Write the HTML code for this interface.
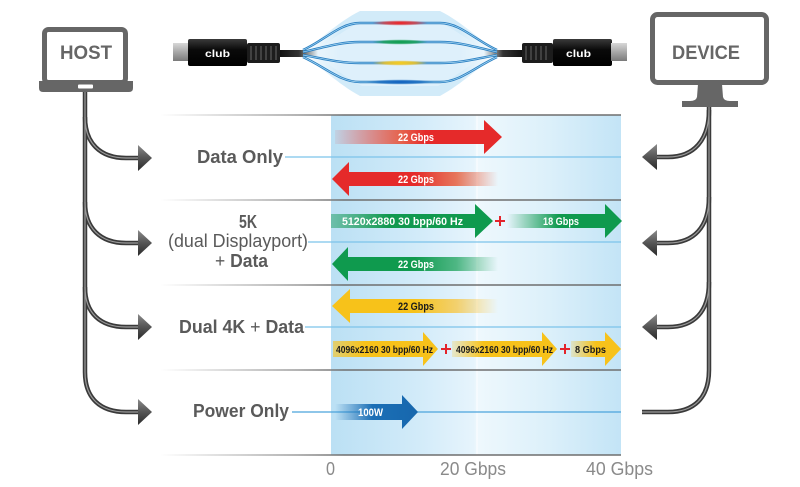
<!DOCTYPE html>
<html><head><meta charset="utf-8">
<style>
html,body{margin:0;padding:0;background:#fff;}
svg{display:block;}
text{font-family:"Liberation Sans",sans-serif;}
</style></head>
<body>
<svg width="800" height="487" viewBox="0 0 800 487" xmlns="http://www.w3.org/2000/svg">
<defs>
  <linearGradient id="panel" x1="331" y1="0" x2="621" y2="0" gradientUnits="userSpaceOnUse">
    <stop offset="0" stop-color="#bbe0f4"/>
    <stop offset="0.3" stop-color="#d2ebf9"/>
    <stop offset="0.49" stop-color="#e6f4fc"/>
    <stop offset="0.51" stop-color="#eef8fd"/>
    <stop offset="0.75" stop-color="#dcf0fa"/>
    <stop offset="1" stop-color="#c3e4f6"/>
  </linearGradient>
  <linearGradient id="sep" x1="160" y1="0" x2="621" y2="0" gradientUnits="userSpaceOnUse">
    <stop offset="0" stop-color="#ffffff"/>
    <stop offset="0.3" stop-color="#9a9a9a"/>
    <stop offset="0.4" stop-color="#6e6e6e"/>
    <stop offset="1" stop-color="#6e6e6e"/>
  </linearGradient>
  <linearGradient id="rR" x1="335" y1="0" x2="500" y2="0" gradientUnits="userSpaceOnUse">
    <stop offset="0" stop-color="#e52a2a" stop-opacity="0.08"/>
    <stop offset="0.4" stop-color="#e8543a" stop-opacity="0.9"/>
    <stop offset="0.55" stop-color="#e52a2a"/>
    <stop offset="1" stop-color="#e52a2a"/>
  </linearGradient>
  <linearGradient id="rL" x1="332" y1="0" x2="498" y2="0" gradientUnits="userSpaceOnUse">
    <stop offset="0" stop-color="#e52a2a"/>
    <stop offset="0.5" stop-color="#e52a2a"/>
    <stop offset="0.75" stop-color="#e8603f" stop-opacity="0.85"/>
    <stop offset="1" stop-color="#e8603f" stop-opacity="0"/>
  </linearGradient>
  <linearGradient id="gR1" x1="331" y1="0" x2="493" y2="0" gradientUnits="userSpaceOnUse">
    <stop offset="0" stop-color="#3aa87a" stop-opacity="0.6"/>
    <stop offset="0.35" stop-color="#11994f"/>
    <stop offset="1" stop-color="#0f9a4e"/>
  </linearGradient>
  <linearGradient id="gR2" x1="507" y1="0" x2="622" y2="0" gradientUnits="userSpaceOnUse">
    <stop offset="0" stop-color="#0f9a4e" stop-opacity="0"/>
    <stop offset="0.45" stop-color="#0f9a4e"/>
    <stop offset="1" stop-color="#0f9a4e"/>
  </linearGradient>
  <linearGradient id="gL" x1="332" y1="0" x2="498" y2="0" gradientUnits="userSpaceOnUse">
    <stop offset="0" stop-color="#0f9a4e"/>
    <stop offset="0.5" stop-color="#0f9a4e"/>
    <stop offset="0.75" stop-color="#2aa866" stop-opacity="0.8"/>
    <stop offset="1" stop-color="#2aa866" stop-opacity="0"/>
  </linearGradient>
  <linearGradient id="yL" x1="332" y1="0" x2="498" y2="0" gradientUnits="userSpaceOnUse">
    <stop offset="0" stop-color="#f7c21a"/>
    <stop offset="0.5" stop-color="#f7c21a"/>
    <stop offset="0.75" stop-color="#f7c84a" stop-opacity="0.8"/>
    <stop offset="1" stop-color="#f7c84a" stop-opacity="0"/>
  </linearGradient>
  <linearGradient id="yR1" x1="333" y1="0" x2="438" y2="0" gradientUnits="userSpaceOnUse">
    <stop offset="0" stop-color="#f7c21a" stop-opacity="0.6"/>
    <stop offset="0.3" stop-color="#f7c21a"/>
    <stop offset="1" stop-color="#f7c21a"/>
  </linearGradient>
  <linearGradient id="yR2" x1="452" y1="0" x2="557" y2="0" gradientUnits="userSpaceOnUse">
    <stop offset="0" stop-color="#f7c21a" stop-opacity="0.2"/>
    <stop offset="0.3" stop-color="#f7c21a"/>
    <stop offset="1" stop-color="#f7c21a"/>
  </linearGradient>
  <linearGradient id="yR3" x1="571" y1="0" x2="621" y2="0" gradientUnits="userSpaceOnUse">
    <stop offset="0" stop-color="#f7c21a" stop-opacity="0.2"/>
    <stop offset="0.5" stop-color="#f7c21a"/>
    <stop offset="1" stop-color="#f7c21a"/>
  </linearGradient>
  <linearGradient id="bR" x1="335" y1="0" x2="418" y2="0" gradientUnits="userSpaceOnUse">
    <stop offset="0" stop-color="#1b6fb6" stop-opacity="0"/>
    <stop offset="0.45" stop-color="#1b6fb6"/>
    <stop offset="1" stop-color="#1767ad"/>
  </linearGradient>
  <linearGradient id="ahead" x1="0" y1="0" x2="0" y2="1">
    <stop offset="0" stop-color="#8a8a8a"/>
    <stop offset="0.5" stop-color="#555"/>
    <stop offset="1" stop-color="#2a2a2a"/>
  </linearGradient>
  <linearGradient id="silver" x1="0" y1="0" x2="0" y2="1">
    <stop offset="0" stop-color="#d8d8d8"/>
    <stop offset="0.5" stop-color="#a8a8a8"/>
    <stop offset="1" stop-color="#7a7a7a"/>
  </linearGradient>
  <linearGradient id="housing" x1="0" y1="0" x2="0" y2="1">
    <stop offset="0" stop-color="#3a3a3a"/>
    <stop offset="0.4" stop-color="#0a0a0a"/>
    <stop offset="1" stop-color="#000"/>
  </linearGradient>
  <linearGradient id="cabL" x1="280" y1="0" x2="318" y2="0" gradientUnits="userSpaceOnUse">
    <stop offset="0" stop-color="#111"/>
    <stop offset="0.5" stop-color="#333"/>
    <stop offset="1" stop-color="#333" stop-opacity="0"/>
  </linearGradient>
  <linearGradient id="cabR" x1="484" y1="0" x2="522" y2="0" gradientUnits="userSpaceOnUse">
    <stop offset="0" stop-color="#333" stop-opacity="0"/>
    <stop offset="0.5" stop-color="#333"/>
    <stop offset="1" stop-color="#111"/>
  </linearGradient>
  <linearGradient id="bundle" x1="300" y1="0" x2="500" y2="0" gradientUnits="userSpaceOnUse">
    <stop offset="0" stop-color="#e4f3fc" stop-opacity="0.2"/>
    <stop offset="0.2" stop-color="#d2ebf9"/>
    <stop offset="0.8" stop-color="#d2ebf9"/>
    <stop offset="1" stop-color="#e4f3fc" stop-opacity="0.2"/>
  </linearGradient>
  <radialGradient id="blobR"><stop offset="0" stop-color="#ff1a1a"/><stop offset="0.6" stop-color="#e83030" stop-opacity="0.7"/><stop offset="1" stop-color="#e83030" stop-opacity="0"/></radialGradient>
  <radialGradient id="blobG"><stop offset="0" stop-color="#0ea04a"/><stop offset="0.6" stop-color="#16a050" stop-opacity="0.8"/><stop offset="1" stop-color="#16a050" stop-opacity="0"/></radialGradient>
  <radialGradient id="blobY"><stop offset="0" stop-color="#ffd21a"/><stop offset="0.6" stop-color="#f4c520" stop-opacity="0.8"/><stop offset="1" stop-color="#f4c520" stop-opacity="0"/></radialGradient>
  <radialGradient id="blobB"><stop offset="0" stop-color="#1060c0"/><stop offset="0.6" stop-color="#1a6cc0" stop-opacity="0.8"/><stop offset="1" stop-color="#1a6cc0" stop-opacity="0"/></radialGradient>
</defs>

<!-- Panel -->
<rect x="331" y="115" width="290" height="340" fill="url(#panel)"/>
<line x1="477" y1="115" x2="477" y2="455" stroke="#ffffff" stroke-width="1.2" opacity="0.8"/>

<!-- separator lines -->
<g stroke="url(#sep)" stroke-width="1.6">
  <line x1="160" y1="115" x2="621" y2="115"/>
  <line x1="160" y1="200" x2="621" y2="200"/>
  <line x1="160" y1="285" x2="621" y2="285"/>
  <line x1="160" y1="370" x2="621" y2="370"/>
  <line x1="160" y1="455" x2="621" y2="455"/>
</g>

<!-- mid light blue lines -->
<g stroke-width="1.3">
  <line x1="285" y1="157" x2="621" y2="157" stroke="#7cc3ea"/>
  <line x1="308" y1="242" x2="621" y2="242" stroke="#7cc3ea"/>
  <line x1="305" y1="327" x2="621" y2="327" stroke="#7cc3ea"/>
  <line x1="292" y1="412" x2="621" y2="412" stroke="#4ba4dc"/>
</g>

<!-- Row labels -->
<g fill="#5a5a5a" font-weight="bold" font-size="18">
  <text x="197" y="163" textLength="86" lengthAdjust="spacingAndGlyphs">Data Only</text>
  <text x="239" y="228" textLength="18" lengthAdjust="spacingAndGlyphs">5K</text>
  <text x="168" y="247" font-weight="normal" textLength="140" lengthAdjust="spacingAndGlyphs">(dual Displayport)</text>
  <text x="215" y="267" textLength="53" lengthAdjust="spacingAndGlyphs"><tspan font-weight="normal">+ </tspan>Data</text>
  <text x="179" y="333" textLength="125" lengthAdjust="spacingAndGlyphs">Dual 4K <tspan font-weight="normal">+</tspan> Data</text>
  <text x="193" y="417" textLength="96" lengthAdjust="spacingAndGlyphs">Power Only</text>
</g>

<!-- Arrows -->
<path d="M335,130 H484 V120 L502,137 L484,154 V144 H335 Z" fill="url(#rR)"/>
<path d="M332,179 L349,162 V172 H498 V186 H349 V196 Z" fill="url(#rL)"/>
<path d="M331,214 H475 V204 L493,221 L475,238 V228 H331 Z" fill="url(#gR1)"/>
<path d="M507,214 H605 V204 L622,221 L605,238 V228 H507 Z" fill="url(#gR2)"/>
<path d="M332,264 L348,247 V257 H498 V271 H348 V281 Z" fill="url(#gL)"/>
<path d="M332,306 L350,289 V299 H498 V313 H350 V323 Z" fill="url(#yL)"/>
<path d="M333,341 H423 V332 L438,349 L423,366 V357 H333 Z" fill="url(#yR1)"/>
<path d="M452,341 H542 V332 L557,349 L542,366 V357 H452 Z" fill="url(#yR2)"/>
<path d="M571,341 H605 V332 L621,349 L605,366 V357 H571 Z" fill="url(#yR3)"/>
<path d="M335,404 H402 V395 L418,412 L402,429 V420 H335 Z" fill="url(#bR)"/>

<!-- red pluses -->
<g stroke="#e3242b" stroke-width="2">
  <line x1="495" y1="221" x2="505" y2="221"/><line x1="500" y1="216" x2="500" y2="226"/>
  <line x1="441" y1="349" x2="451" y2="349"/><line x1="446" y1="344" x2="446" y2="354"/>
  <line x1="560" y1="349" x2="570" y2="349"/><line x1="565" y1="344" x2="565" y2="354"/>
</g>

<!-- arrow labels -->
<g font-weight="bold" font-size="11" fill="#ffffff">
  <text x="398" y="141" textLength="36" lengthAdjust="spacingAndGlyphs">22 Gbps</text>
  <text x="398" y="183" textLength="36" lengthAdjust="spacingAndGlyphs">22 Gbps</text>
  <text x="342" y="225" textLength="121" lengthAdjust="spacingAndGlyphs">5120x2880 30 bpp/60 Hz</text>
  <text x="543" y="225" textLength="36" lengthAdjust="spacingAndGlyphs">18 Gbps</text>
  <text x="398" y="268" textLength="36" lengthAdjust="spacingAndGlyphs">22 Gbps</text>
  <text x="358" y="416" textLength="25" lengthAdjust="spacingAndGlyphs">100W</text>
</g>
<g font-weight="bold" fill="#1a1a1a">
  <text x="398" y="310" font-size="11" textLength="36" lengthAdjust="spacingAndGlyphs">22 Gbps</text>
  <text x="336" y="353" font-size="10.5" textLength="97" lengthAdjust="spacingAndGlyphs">4096x2160 30 bpp/60 Hz</text>
  <text x="456" y="353" font-size="10.5" textLength="97" lengthAdjust="spacingAndGlyphs">4096x2160 30 bpp/60 Hz</text>
  <text x="575" y="353" font-size="10.5" textLength="31" lengthAdjust="spacingAndGlyphs">8 Gbps</text>
</g>

<!-- axis labels -->
<g fill="#8a8a8a" font-size="18">
  <text x="326" y="475" textLength="9" lengthAdjust="spacingAndGlyphs">0</text>
  <text x="440" y="475" textLength="66" lengthAdjust="spacingAndGlyphs">20 Gbps</text>
  <text x="586" y="475" textLength="67" lengthAdjust="spacingAndGlyphs">40 Gbps</text>
</g>

<!-- HOST laptop -->
<rect x="44.5" y="29.5" width="81" height="53" rx="4" fill="#fff" stroke="#666" stroke-width="5"/>
<path d="M39,81 H133 V88 Q133,92 129,92 H43 Q39,92 39,88 Z" fill="#666"/>
<rect x="78" y="84.5" width="15" height="4" rx="1" fill="#fff"/>
<text x="60" y="59" fill="#666" font-size="19" font-weight="bold" textLength="52" lengthAdjust="spacingAndGlyphs">HOST</text>

<!-- DEVICE monitor -->
<rect x="652.5" y="14.5" width="114" height="68" rx="5" fill="#fff" stroke="#666" stroke-width="5"/>
<path d="M698,84 H722 L723,97 Q724,101 730,101 H738 V107 H682 V101 H690 Q696,101 697,97 Z" fill="#666"/>
<text x="672" y="59" fill="#666" font-size="19" font-weight="bold" textLength="68" lengthAdjust="spacingAndGlyphs">DEVICE</text>

<!-- Host tubes -->
<g fill="none">
  <g stroke="#3a3a3a" stroke-width="4.5">
    <path d="M85,92 V372 C85,398 100,412 126,412 H140"/>
    <path d="M85,117 C85,143 100,158 126,158 H140"/>
    <path d="M85,202 C85,228 100,243 126,243 H140"/>
    <path d="M85,287 C85,313 100,327 126,327 H140"/>
  </g>
  <g stroke="#9a9a9a" stroke-width="1.2">
    <path d="M85,92 V372 C85,398 100,412 126,412 H140"/>
    <path d="M85,117 C85,143 100,158 126,158 H140"/>
    <path d="M85,202 C85,228 100,243 126,243 H140"/>
    <path d="M85,287 C85,313 100,327 126,327 H140"/>
  </g>
</g>
<g fill="url(#ahead)">
  <polygon points="138,145 152,158 138,171"/>
  <polygon points="138,230 152,243 138,256"/>
  <polygon points="138,314 152,327 138,340"/>
  <polygon points="138,399 152,412 138,425"/>
</g>

<!-- Device tubes -->
<g fill="none">
  <g stroke="#3a3a3a" stroke-width="4.5">
    <path d="M709,107 V370 C709,398 694,412 668,412 H642"/>
    <path d="M709,110 C709,140 694,157 668,157 H656"/>
    <path d="M709,197 C709,227 694,243 668,243 H656"/>
    <path d="M709,282 C709,312 694,327 668,327 H656"/>
  </g>
  <g stroke="#9a9a9a" stroke-width="1.2">
    <path d="M709,107 V370 C709,398 694,412 668,412 H642"/>
    <path d="M709,110 C709,140 694,157 668,157 H656"/>
    <path d="M709,197 C709,227 694,243 668,243 H656"/>
    <path d="M709,282 C709,312 694,327 668,327 H656"/>
  </g>
</g>
<g fill="url(#ahead)">
  <polygon points="657,144 642,157 657,170"/>
  <polygon points="657,230 642,243 657,256"/>
  <polygon points="657,314 642,327 657,340"/>
</g>

<!-- Top cable -->
<path d="M300,53 C320,40 338,22 360,11 H440 C462,22 480,40 500,53 C480,66 462,84 440,96 H360 C338,84 320,66 300,53 Z" fill="url(#bundle)"/>
<path d="M310,53 C328,44 342,30 362,22 H438 C458,30 472,44 490,53 C472,62 458,76 438,86 H362 C342,76 328,62 310,53 Z" fill="#e6f4fc" opacity="0.6"/>
<rect x="280" y="50" width="38" height="7" fill="url(#cabL)"/>
<rect x="484" y="50" width="38" height="7" fill="url(#cabR)"/>
<g fill="none">
  <g stroke="#2a7fc2" stroke-width="2.4">
    <path d="M303,50 C325,40 340,23 360,23 H440 C460,23 475,40 497,50"/>
    <path d="M303,52 C325,47 340,42 360,42 H440 C460,42 475,47 497,52"/>
    <path d="M303,55 C325,59 340,63 360,63 H440 C460,63 475,59 497,55"/>
    <path d="M303,57 C325,67 340,82 360,82 H440 C460,82 475,67 497,57"/>
  </g>
  <g stroke="#a8d8f2" stroke-width="0.7">
    <path d="M303,50 C325,40 340,23 360,23 H440 C460,23 475,40 497,50"/>
    <path d="M303,52 C325,47 340,42 360,42 H440 C460,42 475,47 497,52"/>
    <path d="M303,55 C325,59 340,63 360,63 H440 C460,63 475,59 497,55"/>
    <path d="M303,57 C325,67 340,82 360,82 H440 C460,82 475,67 497,57"/>
  </g>
</g>
<ellipse cx="400" cy="23" rx="28" ry="2.6" fill="url(#blobR)"/>
<ellipse cx="400" cy="42" rx="28" ry="2.6" fill="url(#blobG)"/>
<ellipse cx="400" cy="63" rx="28" ry="2.6" fill="url(#blobY)"/>
<ellipse cx="400" cy="82" rx="34" ry="2.6" fill="url(#blobB)"/>

<!-- left connector -->
<rect x="173" y="43" width="16" height="18" fill="url(#silver)"/>
<rect x="188" y="39" width="59" height="27" rx="2" fill="url(#housing)"/>
<text x="205" y="57" fill="#fff" font-size="10" font-weight="bold" textLength="25" lengthAdjust="spacingAndGlyphs">club</text>
<rect x="247" y="43" width="33" height="20" rx="2" fill="#1c1c1c"/>
<g stroke="#5a5a5a" stroke-width="1.2">
  <line x1="251" y1="46" x2="251" y2="60"/><line x1="256" y1="46" x2="256" y2="60"/>
  <line x1="261" y1="46" x2="261" y2="60"/><line x1="266" y1="46" x2="266" y2="60"/>
  <line x1="271" y1="46" x2="271" y2="60"/><line x1="276" y1="46" x2="276" y2="60"/>
</g>

<!-- right connector -->
<rect x="522" y="43" width="31" height="20" rx="2" fill="#1c1c1c"/>
<g stroke="#5a5a5a" stroke-width="1.2">
  <line x1="526" y1="46" x2="526" y2="60"/><line x1="531" y1="46" x2="531" y2="60"/>
  <line x1="536" y1="46" x2="536" y2="60"/><line x1="541" y1="46" x2="541" y2="60"/>
  <line x1="546" y1="46" x2="546" y2="60"/>
</g>
<rect x="553" y="39" width="59" height="27" rx="2" fill="url(#housing)"/>
<text x="566" y="57" fill="#fff" font-size="10" font-weight="bold" textLength="25" lengthAdjust="spacingAndGlyphs">club</text>
<rect x="611" y="43" width="16" height="18" fill="url(#silver)"/>
</svg>
</body></html>
